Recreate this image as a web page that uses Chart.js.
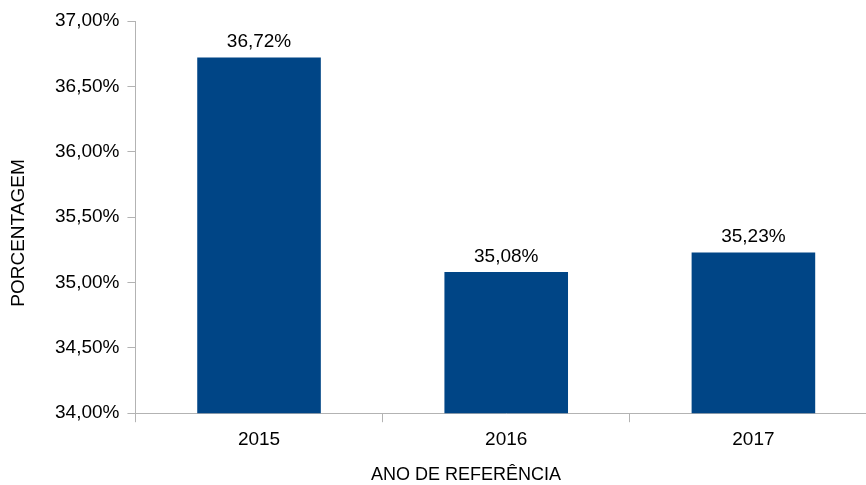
<!DOCTYPE html>
<html>
<head>
<meta charset="utf-8">
<script src="https://cdn.jsdelivr.net/npm/chart.js@4"></script>
<style>
  html, body { margin: 0; padding: 0; overflow: hidden; background: #fff; }
  #wrap { width: 880px; height: 485px; }
</style>
</head>
<body>
<div id="wrap"><canvas id="chart" width="880" height="485"></canvas></div>
<script>
// data
const anos = ['2015', '2016', '2017'];
const porcentagem = [36.72, 35.08, 35.23];
const yMin = 34, yMax = 37, yStep = 0.5;

const fmt = v => v.toFixed(2).replace('.', ',') + '%';
const FONT = '"Liberation Sans", Arial, sans-serif';

// value labels above the bars + axis titles
const extras = {
  id: 'extras',
  afterDatasetsDraw(chart) {
    const ctx = chart.ctx;
    const meta = chart.getDatasetMeta(0);
    ctx.save();
    ctx.font = '19px ' + FONT;
    ctx.fillStyle = '#000';
    ctx.textAlign = 'center';
    ctx.textBaseline = 'bottom';
    meta.data.forEach((bar, i) => {
      ctx.fillText(fmt(porcentagem[i]), bar.x, bar.y - 6);
    });
    // axis titles (the original is not centred on the plot)
    ctx.font = '18px ' + FONT;
    ctx.textBaseline = 'middle';
    ctx.fillText('ANO DE REFERÊNCIA', 466, 475);
    ctx.font = '19px ' + FONT;
    ctx.translate(19, 233);
    ctx.rotate(-Math.PI / 2);
    ctx.fillText('PORCENTAGEM', 0, 0);
    ctx.restore();
  }
};

Chart.defaults.font.family = FONT;
Chart.defaults.color = '#000';

new Chart(document.querySelector('#chart').getContext('2d'), {
  type: 'bar',
  data: {
    labels: anos,
    datasets: [{
      data: porcentagem,
      backgroundColor: '#004586',
      categoryPercentage: 1,
      barPercentage: 0.5
    }]
  },
  options: {
    responsive: false,
    animation: false,
    layout: { padding: { top: 21, left: 47, right: 3, bottom: 28 } },
    plugins: { legend: { display: false }, tooltip: { enabled: false } },
    scales: {
      x: {
        grid: { offset: true, drawOnChartArea: false, tickLength: 9, color: '#b3b3b3' },
        border: { color: '#b3b3b3' },
        ticks: { padding: 6, font: { size: 19 } }
      },
      y: {
        min: yMin,
        max: yMax,
        grid: { drawOnChartArea: false, tickLength: 8, color: '#b3b3b3' },
        border: { color: '#b3b3b3' },
        ticks: { stepSize: yStep, padding: 8, callback: v => fmt(v), font: { size: 19 } }
      }
    }
  },
  plugins: [extras]
});
</script>
</body>
</html>
